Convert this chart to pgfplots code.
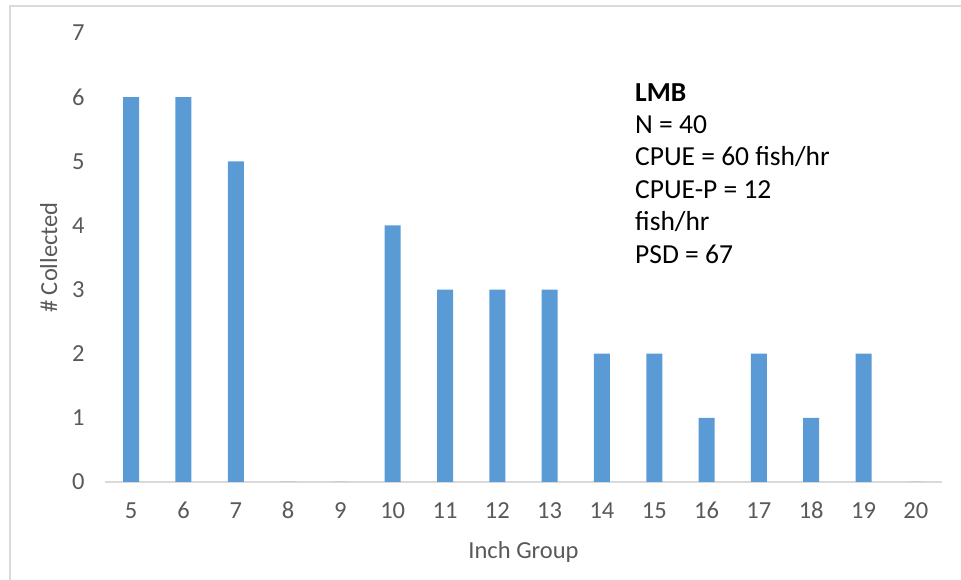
\documentclass[border=0pt]{standalone}
\usepackage{pgfplots}
\pgfplotsset{compat=1.18}
\usepackage{fontspec}
\setmainfont{Carlito}
\definecolor{barblue}{HTML}{5B9BD5}
\definecolor{axgray}{HTML}{D9D9D9}
\definecolor{txtgray}{HTML}{595959}
\begin{document}
\begin{tikzpicture}[x=1pt,y=1pt]
\useasboundingbox (0,0) rectangle (961,580);
\draw[axgray, line width=2.5pt] (10,0) -- (10,574) -- (961,574);
\begin{axis}[
  at={(105pt,98pt)}, anchor=south west,
  scale only axis, width=837pt, height=449pt,
  xmin=-0.5, xmax=15.5, ymin=0, ymax=7,
  axis x line*=bottom, axis y line*=left,
  y axis line style={draw=none},
  x axis line style={axgray, line width=2pt, -},
  major tick length=0pt,
  xtick={0,...,15},
  xticklabels={5,6,7,8,9,10,11,12,13,14,15,16,17,18,19,20},
  ytick={0,...,7},
  /pgf/number format/assume math mode=true,
  tick label style={font=\fontsize{24.5}{29}\selectfont, text=txtgray},
  xticklabel style={anchor=base, yshift=-37pt},
  yticklabel style={xshift=-17pt},
  xlabel={Inch Group}, ylabel={\# Collected},
  label style={font=\fontsize{24.5}{29}\selectfont, text=txtgray},
  xlabel style={at={(axis description cs:0.5,-0.1693)}, anchor=base},
  ylabel style={at={(axis description cs:-0.0573,0.5)}, anchor=base},
  clip=false,
]
\addplot[ybar, bar width=16pt, fill=barblue, draw=none] coordinates {
(0,6) (1,6) (2,5) (3,0) (4,0) (5,4) (6,3) (7,3) (8,3) (9,2) (10,2) (11,1) (12,2) (13,1) (14,2) (15,0)
};
\end{axis}
\node[anchor=north west, align=left, inner sep=0pt, font=\fontsize{27.5}{32.4}\selectfont] at (635,497)
{\textbf{LMB}\\N = 40\\CPUE = 60 fish/hr\\CPUE-P = 12\\fish/hr\\PSD = 67};
\end{tikzpicture}
\end{document}
